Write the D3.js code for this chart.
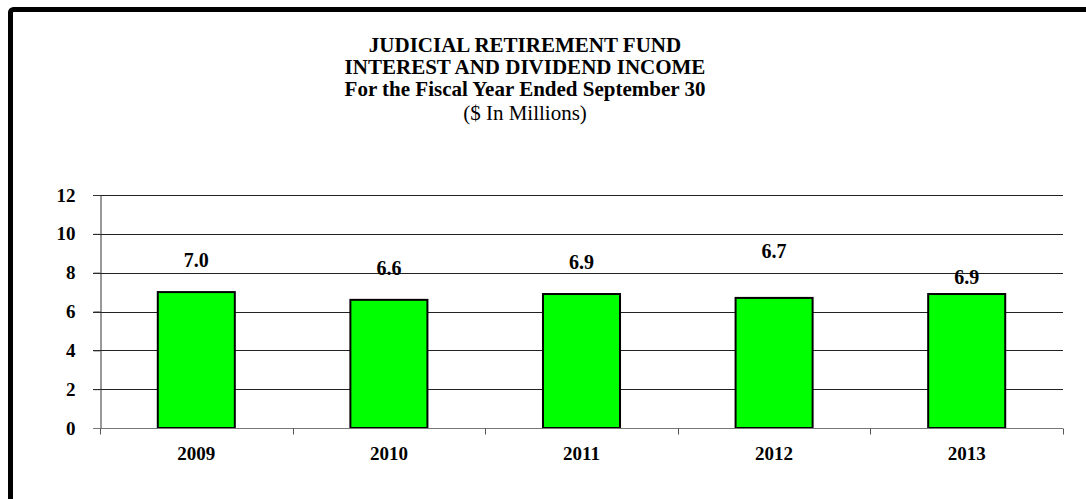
<!DOCTYPE html>
<html>
<head>
<meta charset="utf-8">
<script src="https://cdn.jsdelivr.net/npm/d3@7"></script>
<style>
  html, body { margin: 0; padding: 0; background: #fff; }
  svg { display: block; }
</style>
</head>
<body>
<script>
// chart data
const years = ["2009", "2010", "2011", "2012", "2013"];
const income = [7.0, 6.6, 6.9, 6.7, 6.9];
const yTicks = [0, 2, 4, 6, 8, 10, 12];
const titleLines = [
  "JUDICIAL RETIREMENT FUND",
  "INTEREST AND DIVIDEND INCOME",
  "For the Fiscal Year Ended September 30"
];
const subtitle = "($ In Millions)";

const width = 1086, height = 499;
const font = "'Liberation Serif', 'Times New Roman', serif";

const svg = d3.select("body").append("svg")
    .attr("width", width)
    .attr("height", height);

// outer frame (runs off the right/bottom edge like the source)
svg.append("rect")
    .attr("x", 10.5).attr("y", 9.5)
    .attr("width", 1200).attr("height", 600)
    .attr("rx", 3)
    .attr("fill", "#fff")
    .attr("stroke", "#000")
    .attr("stroke-width", 5);

// titles
const title = svg.append("g")
    .attr("font-family", font)
    .attr("font-size", 21)
    .attr("text-anchor", "middle");
titleLines.forEach((t, i) => {
    title.append("text")
        .attr("x", 525).attr("y", 52 + i * 22)
        .attr("font-weight", "bold")
        .text(t);
});
title.append("text")
    .attr("x", 525).attr("y", 52 + titleLines.length * 22 + 2)
    .text(subtitle);

const plot = { left: 100, right: 1063, top: 195, bottom: 428 };

const x = d3.scaleBand()
    .domain(years)
    .range([plot.left, plot.right])
    .paddingInner(0.6)
    .paddingOuter(0.3);

const y = d3.scaleLinear()
    .domain([0, 12])
    .range([plot.bottom, plot.top]);

// gridlines
svg.append("g")
    .selectAll("line")
    .data(yTicks.filter(d => d > 0))
    .enter().append("line")
    .attr("x1", plot.left - 7).attr("x2", plot.right)
    .attr("y1", d => Math.round(y(d)) + 0.5)
    .attr("y2", d => Math.round(y(d)) + 0.5)
    .attr("stroke", "#222")
    .attr("stroke-width", 1);

// y axis
const yAxis = svg.append("g")
    .attr("transform", `translate(${plot.left + 0.5},0)`)
    .call(d3.axisLeft(y).tickValues(yTicks).tickSize(7).tickPadding(18));
yAxis.select(".domain").attr("stroke", "#333");
yAxis.selectAll(".tick line").attr("stroke", "#333");
yAxis.selectAll("text")
    .attr("font-family", font)
    .attr("font-size", 19)
    .attr("font-weight", "bold")
    .attr("fill", "#000");

// bars
svg.append("g")
    .selectAll("rect")
    .data(years)
    .enter().append("rect")
    .attr("x", d => x(d))
    .attr("y", (d, i) => y(income[i]))
    .attr("width", x.bandwidth())
    .attr("height", (d, i) => y(0) - y(income[i]))
    .attr("fill", "#00ff00")
    .attr("stroke", "#000")
    .attr("stroke-width", 2);

// x axis with ticks between categories
const xAxisY = Math.round(y(0)) + 0.5;
svg.append("line")
    .attr("x1", plot.left - 7).attr("x2", plot.right)
    .attr("y1", xAxisY).attr("y2", xAxisY)
    .attr("stroke", "#777");
const step = x.step();
svg.append("g")
    .selectAll("line")
    .data(d3.range(years.length + 1))
    .enter().append("line")
    .attr("x1", i => Math.round(plot.left + i * step) + 0.5)
    .attr("x2", i => Math.round(plot.left + i * step) + 0.5)
    .attr("y1", xAxisY).attr("y2", xAxisY + 6)
    .attr("stroke", "#555");

svg.append("g")
    .selectAll("text")
    .data(years)
    .enter().append("text")
    .attr("x", d => x(d) + x.bandwidth() / 2)
    .attr("y", 460)
    .attr("text-anchor", "middle")
    .attr("font-family", font)
    .attr("font-size", 19)
    .attr("font-weight", "bold")
    .text(d => d);

// value labels (some were dragged around in the source)
const labelNudge = [0, 0, 0, -15, 15];
svg.append("g")
    .selectAll("text")
    .data(years)
    .enter().append("text")
    .attr("x", d => x(d) + x.bandwidth() / 2)
    .attr("y", (d, i) => y(income[i]) - 25 + labelNudge[i])
    .attr("text-anchor", "middle")
    .attr("font-family", font)
    .attr("font-size", 20)
    .attr("font-weight", "bold")
    .text((d, i) => income[i].toFixed(1));
</script>
</body>
</html>
